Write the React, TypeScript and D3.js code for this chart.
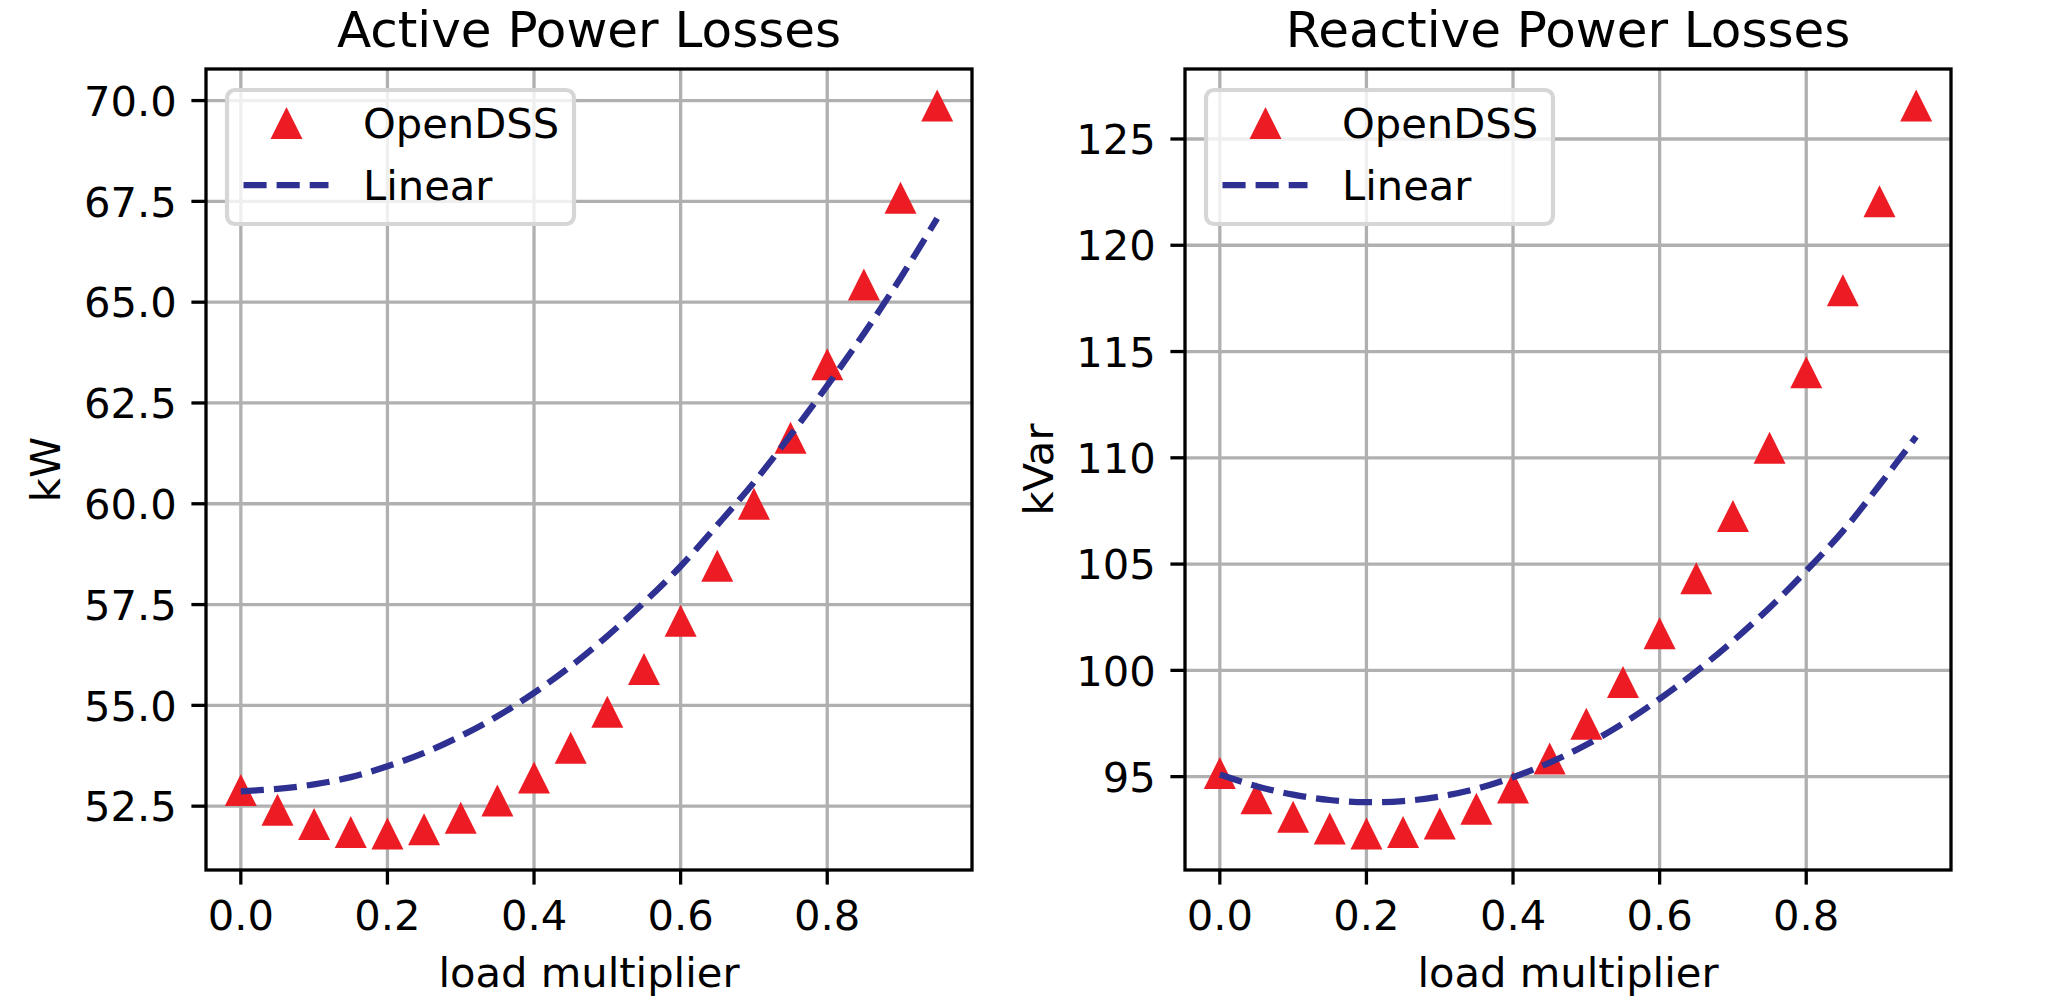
import * as d3 from "d3";
import { useEffect, useRef } from "react";

// load multiplier steps (x for both panels)
const loadMultiplier = [0, 0.05, 0.1, 0.15, 0.2, 0.25, 0.3, 0.35, 0.4, 0.45, 0.5, 0.55, 0.6, 0.65, 0.7, 0.75, 0.8, 0.85, 0.9, 0.95];

// active power losses, kW
const activeOpenDSS = [52.9, 52.41, 52.06, 51.86, 51.82, 51.93, 52.21, 52.64, 53.21, 53.95, 54.84, 55.9, 57.1, 58.46, 60.0, 61.64, 63.46, 65.44, 67.59, 69.88];
const activeLinear = [52.87, 52.93, 53.04, 53.22, 53.49, 53.82, 54.24, 54.73, 55.31, 55.97, 56.72, 57.55, 58.45, 59.47, 60.53, 61.7, 62.93, 64.22, 65.6, 67.08];

// reactive power losses, kVar
const reactiveOpenDSS = [95.17, 93.98, 93.11, 92.56, 92.32, 92.4, 92.79, 93.49, 94.49, 95.85, 97.49, 99.45, 101.74, 104.33, 107.26, 110.47, 114.02, 117.88, 122.07, 126.58];
const reactiveLinear = [95.1, 94.55, 94.15, 93.9, 93.8, 93.85, 94.06, 94.43, 94.97, 95.66, 96.5, 97.5, 98.66, 99.95, 101.38, 102.95, 104.68, 106.55, 108.72, 111.0];

const xTicks = [0, 0.2, 0.4, 0.6, 0.8];
const activeTicks = [52.5, 55.0, 57.5, 60.0, 62.5, 65.0, 67.5, 70.0];
const reactiveTicks = [95, 100, 105, 110, 115, 120, 125];

const legendLabels = ["OpenDSS", "Linear"];

const W = 2045;
const H = 1006;
const FONT = "DejaVu Sans";
const FS = 41.67;
const RED = "#ed1c24";
const BLUE = "#2e3192";
const GRID = "#b0b0b0";

type Panel = {
  left: number;
  right: number;
  title: string;
  yLabel: string;
  yLabelX: number;
  opendss: number[];
  linear: number[];
  yTicks: number[];
  fmt: (v: number) => string;
};

const panels: Panel[] = [
  {
    left: 206,
    right: 972,
    title: "Active Power Losses",
    yLabel: "kW",
    yLabelX: 60,
    opendss: activeOpenDSS,
    linear: activeLinear,
    yTicks: activeTicks,
    fmt: d3.format(".1f"),
  },
  {
    left: 1185,
    right: 1951,
    title: "Reactive Power Losses",
    yLabel: "kVar",
    yLabelX: 1053,
    opendss: reactiveOpenDSS,
    linear: reactiveLinear,
    yTicks: reactiveTicks,
    fmt: d3.format("d"),
  },
];

export default function App() {
  const ref = useRef<SVGSVGElement | null>(null);

  useEffect(() => {
    const svg = d3.select(ref.current);
    svg.selectAll("*").remove();
    svg.attr("viewBox", `0 0 ${W} ${H}`);

    const top = 69;
    const bottom = 870;

    panels.forEach((p) => {
      const g = svg.append("g");

      // matplotlib-like 5% margins
      const xExt = d3.extent(loadMultiplier) as [number, number];
      const xPad = (xExt[1] - xExt[0]) * 0.05;
      const x = d3.scaleLinear().domain([xExt[0] - xPad, xExt[1] + xPad]).range([p.left, p.right]);

      const yExt = d3.extent([...p.opendss, ...p.linear]) as [number, number];
      const yPad = (yExt[1] - yExt[0]) * 0.05;
      const y = d3.scaleLinear().domain([yExt[0] - yPad, yExt[1] + yPad]).range([bottom, top]);

      // grid
      g.append("g")
        .selectAll("line")
        .data(xTicks)
        .enter()
        .append("line")
        .attr("x1", (d) => x(d))
        .attr("x2", (d) => x(d))
        .attr("y1", top)
        .attr("y2", bottom)
        .attr("stroke", GRID)
        .attr("stroke-width", 3.3);
      g.append("g")
        .selectAll("line")
        .data(p.yTicks)
        .enter()
        .append("line")
        .attr("x1", p.left)
        .attr("x2", p.right)
        .attr("y1", (d) => y(d))
        .attr("y2", (d) => y(d))
        .attr("stroke", GRID)
        .attr("stroke-width", 3.3);

      // triangles
      const half = 16;
      g.append("g")
        .selectAll("path")
        .data(loadMultiplier)
        .enter()
        .append("path")
        .attr("d", (d, i) => {
          const cx = x(d);
          const cy = y(p.opendss[i]);
          return `M${cx},${cy - half}L${cx - half},${cy + half}L${cx + half},${cy + half}Z`;
        })
        .attr("fill", RED);

      // dashed fit
      const line = d3
        .line<number>()
        .x((d) => x(d))
        .y((_d, i) => y(p.linear[i]))
        .curve(d3.curveCatmullRom);
      g.append("path")
        .attr("d", line(loadMultiplier) as string)
        .attr("fill", "none")
        .attr("stroke", BLUE)
        .attr("stroke-width", 6.25)
        .attr("stroke-dasharray", "23.1 10");

      // spines
      g.append("rect")
        .attr("x", p.left)
        .attr("y", top)
        .attr("width", p.right - p.left)
        .attr("height", bottom - top)
        .attr("fill", "none")
        .attr("stroke", "black")
        .attr("stroke-width", 3.3);

      // x ticks
      const xt = g.append("g").selectAll("g").data(xTicks).enter().append("g");
      xt.append("line")
        .attr("x1", (d) => x(d))
        .attr("x2", (d) => x(d))
        .attr("y1", bottom)
        .attr("y2", bottom + 14.6)
        .attr("stroke", "black")
        .attr("stroke-width", 3.3);
      xt.append("text")
        .attr("x", (d) => x(d))
        .attr("y", bottom + 29.2 + 30.4)
        .attr("text-anchor", "middle")
        .attr("font-family", FONT)
        .attr("font-size", FS)
        .text((d) => d3.format(".1f")(d));

      // y ticks
      const yt = g.append("g").selectAll("g").data(p.yTicks).enter().append("g");
      yt.append("line")
        .attr("x1", p.left - 14.6)
        .attr("x2", p.left)
        .attr("y1", (d) => y(d))
        .attr("y2", (d) => y(d))
        .attr("stroke", "black")
        .attr("stroke-width", 3.3);
      yt.append("text")
        .attr("x", p.left - 29.2)
        .attr("y", (d) => y(d) + 15.2)
        .attr("text-anchor", "end")
        .attr("font-family", FONT)
        .attr("font-size", FS)
        .text((d) => p.fmt(d));

      // labels
      g.append("text")
        .attr("x", (p.left + p.right) / 2)
        .attr("y", 47)
        .attr("text-anchor", "middle")
        .attr("font-family", FONT)
        .attr("font-size", 50)
        .text(p.title);
      g.append("text")
        .attr("x", (p.left + p.right) / 2)
        .attr("y", 987)
        .attr("text-anchor", "middle")
        .attr("font-family", FONT)
        .attr("font-size", FS)
        .text("load multiplier");
      g.append("text")
        .attr("transform", `translate(${p.yLabelX},${(top + bottom) / 2}) rotate(-90)`)
        .attr("text-anchor", "middle")
        .attr("font-family", FONT)
        .attr("font-size", FS)
        .text(p.yLabel);

      // legend
      const lx = p.left + 21;
      const ly = 90;
      const lg = g.append("g");
      lg.append("rect")
        .attr("x", lx)
        .attr("y", ly)
        .attr("width", 347)
        .attr("height", 134)
        .attr("rx", 8)
        .attr("fill", "white")
        .attr("fill-opacity", 0.8)
        .attr("stroke", "#d6d6d6")
        .attr("stroke-width", 4.2);
      const mx = lx + 59.5;
      const my = 123;
      lg.append("path")
        .attr("d", `M${mx},${my - half}L${mx - half},${my + half}L${mx + half},${my + half}Z`)
        .attr("fill", RED);
      lg.append("line")
        .attr("x1", lx + 16.5)
        .attr("x2", lx + 101.5)
        .attr("y1", 185)
        .attr("y2", 185)
        .attr("stroke", BLUE)
        .attr("stroke-width", 6.25)
        .attr("stroke-dasharray", "23.1 10");
      lg.selectAll("text.lab")
        .data(legendLabels)
        .enter()
        .append("text")
        .attr("class", "lab")
        .attr("x", lx + 136)
        .attr("y", (_d, i) => 138 + i * 62)
        .attr("font-family", FONT)
        .attr("font-size", FS)
        .text((d) => d);
    });
  }, []);

  return (
    <div style={{ position: "absolute", left: 0, top: 0, background: "white" }}>
      <svg ref={ref} width={W} height={H} style={{ display: "block" }} />
    </div>
  );
}
